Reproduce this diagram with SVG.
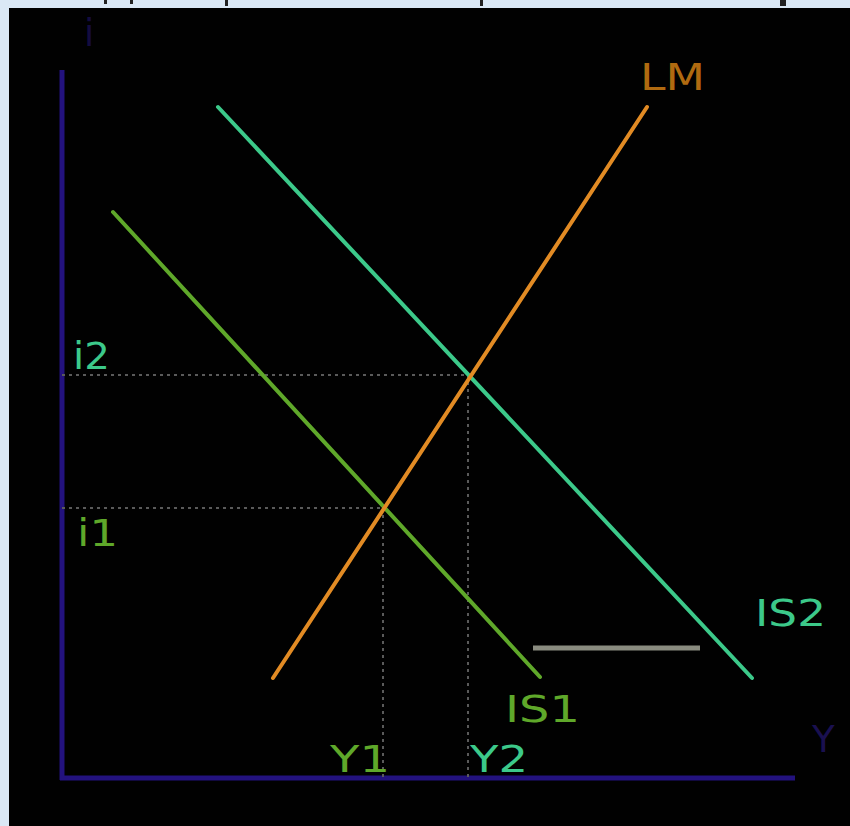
<svg xmlns="http://www.w3.org/2000/svg" width="850" height="826" viewBox="0 0 850 826">
<style>
.ax{stroke:#23127e;stroke-width:5;fill:none}
.dot{stroke:#5a5a5a;stroke-width:2;stroke-dasharray:3 4;fill:none}
.curve{stroke-width:4;fill:none;stroke-linecap:round}
.lbl{font-family:"DejaVu Sans","Liberation Sans",sans-serif;font-size:37px}
</style>
<rect x="0" y="0" width="850" height="826" fill="#dae8f5"/>
<rect x="9" y="8" width="841" height="818" fill="#010101"/>
<g id="top-marks" fill="#222">
<rect x="104" y="0" width="3" height="4"/>
<rect x="130" y="0" width="3" height="4"/>
<rect x="225" y="0" width="3" height="6"/>
<rect x="480" y="0" width="3" height="6"/>
<rect x="780" y="0" width="6" height="6"/>
</g>
<g id="axes">
<line class="ax" x1="62" y1="70" x2="62" y2="780"/>
<line class="ax" x1="60" y1="778" x2="795" y2="778"/>
<text class="lbl" x="84" y="46" fill="#140c40" font-size="30">i</text>
<text class="lbl" x="812" y="752" fill="#1a1050" font-size="30">Y</text>
</g>
<g id="connectors">
<line class="dot" x1="62" y1="375" x2="468" y2="375"/>
<line class="dot" x1="62" y1="508" x2="383" y2="508"/>
<line class="dot" x1="383" y1="508" x2="383" y2="778"/>
<line class="dot" x1="468" y1="375" x2="468" y2="778"/>
</g>
<g id="IS1">
<line class="curve" stroke="#5fa82a" x1="113" y1="212" x2="540" y2="677"/>
<text class="lbl" x="505" y="722" fill="#5fa82a" textLength="75" lengthAdjust="spacingAndGlyphs">IS1</text>
</g>
<g id="IS2">
<line class="curve" stroke="#3cc98a" x1="218" y1="107" x2="752" y2="678"/>
<text class="lbl" x="755" y="626" fill="#3cc98a" textLength="71" lengthAdjust="spacingAndGlyphs">IS2</text>
</g>
<g id="LM">
<line class="curve" stroke="#e28b24" x1="273" y1="678" x2="647" y2="107"/>
<text class="lbl" x="640" y="90" fill="#b06a10" textLength="65" lengthAdjust="spacingAndGlyphs">LM</text>
</g>
<g id="marker-bar">
<line x1="533" y1="648" x2="700" y2="648" stroke="#8a8c80" stroke-width="5"/>
</g>
<g id="labels">
<text class="lbl" x="73" y="369" fill="#3cc98a" textLength="37" lengthAdjust="spacingAndGlyphs">i2</text>
<text class="lbl" x="77" y="546" fill="#5fa82a" textLength="41" lengthAdjust="spacingAndGlyphs">i1</text>
<text class="lbl" x="330" y="772" fill="#5fa82a" textLength="60" lengthAdjust="spacingAndGlyphs">Y1</text>
<text class="lbl" x="470" y="772" fill="#3cc98a" textLength="58" lengthAdjust="spacingAndGlyphs">Y2</text>
</g>
</svg>
